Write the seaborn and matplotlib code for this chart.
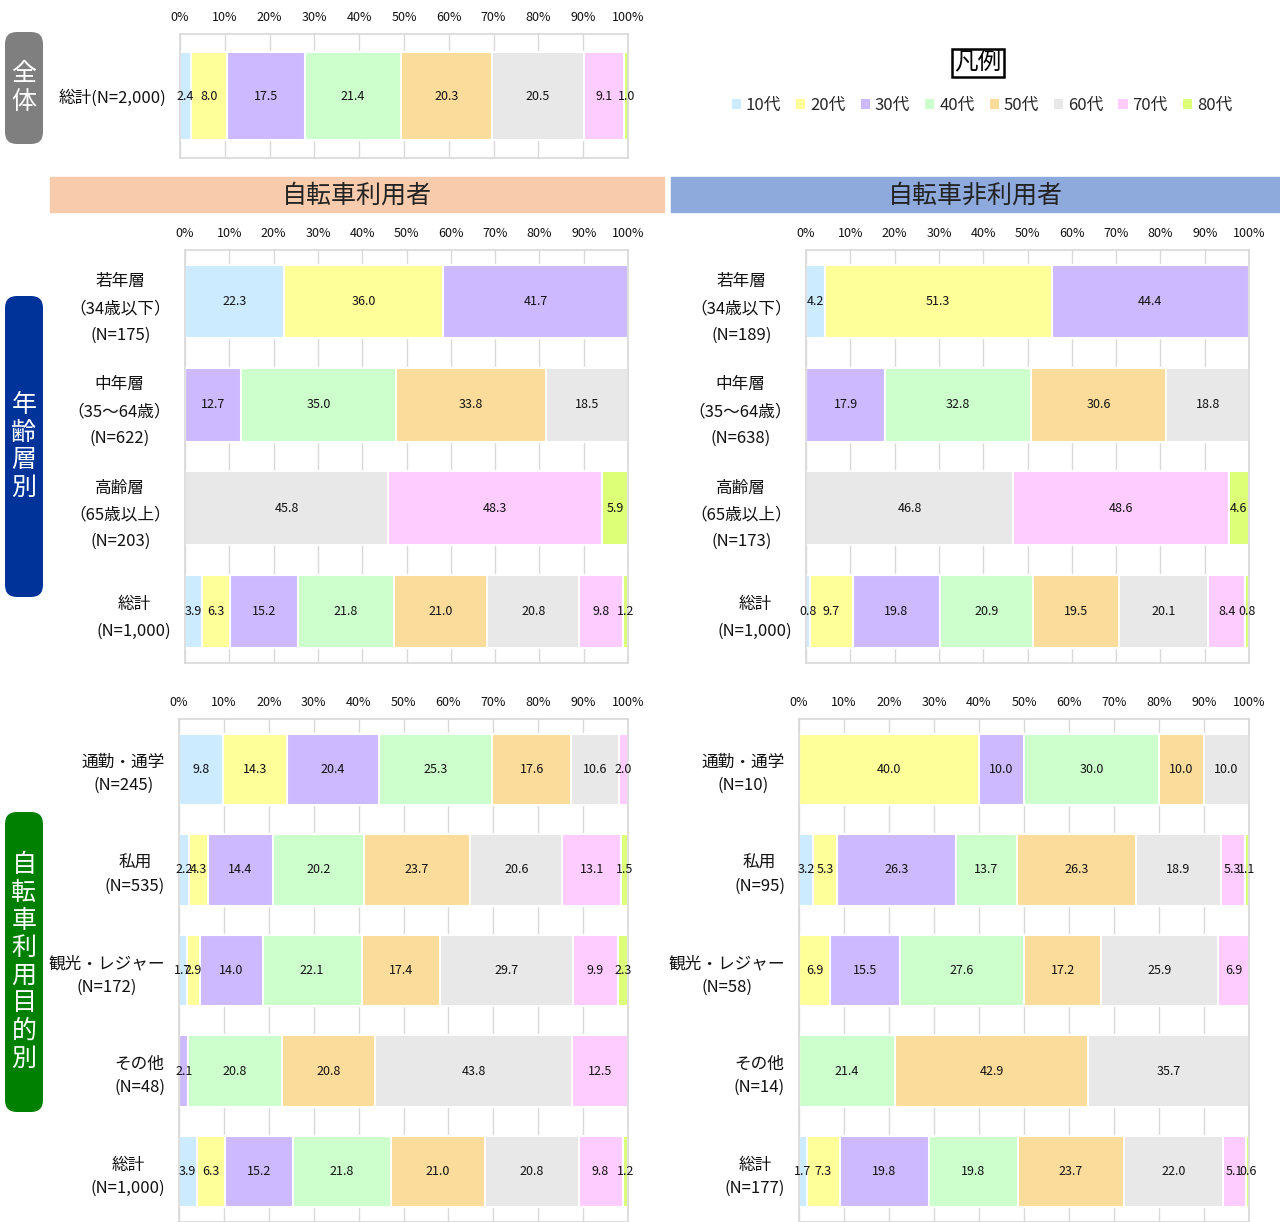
import matplotlib
matplotlib.use("Agg")
import matplotlib.pyplot as plt
import numpy as np
import pandas as pd
import seaborn as sns
from matplotlib.patches import FancyBboxPatch, Patch, Rectangle

W, H = 1280, 1222

age_bands = ["10代", "20代", "30代", "40代", "50代", "60代", "70代", "80代"]
band_colors = ["#CCEBFF", "#FFFF99", "#CDB9FF", "#CCFFCC", "#FCDC9A", "#E8E8E8", "#FFCCFF", "#DDFF77"]

overall_labels = ["総計(N=2,000)"]
overall_values = [[2.4, 8.0, 17.5, 21.4, 20.3, 20.5, 9.1, 1.0]]

user_age_labels = ["若年層\n（34歳以下）\n(N=175)", "中年層\n（35～64歳）\n(N=622)",
                   "高齢層\n（65歳以上）\n(N=203)", "総計\n(N=1,000)"]
user_age_values = [
    [22.3, 36.0, 41.7, 0, 0, 0, 0, 0],
    [0, 0, 12.7, 35.0, 33.8, 18.5, 0, 0],
    [0, 0, 0, 0, 0, 45.8, 48.3, 5.9],
    [3.9, 6.3, 15.2, 21.8, 21.0, 20.8, 9.8, 1.2],
]

nonuser_age_labels = ["若年層\n（34歳以下）\n(N=189)", "中年層\n（35～64歳）\n(N=638)",
                      "高齢層\n（65歳以上）\n(N=173)", "総計\n(N=1,000)"]
nonuser_age_values = [
    [4.2, 51.3, 44.4, 0, 0, 0, 0, 0],
    [0, 0, 17.9, 32.8, 30.6, 18.8, 0, 0],
    [0, 0, 0, 0, 0, 46.8, 48.6, 4.6],
    [0.8, 9.7, 19.8, 20.9, 19.5, 20.1, 8.4, 0.8],
]

user_purpose_labels = ["通勤・通学\n(N=245)", "私用\n(N=535)", "観光・レジャー\n(N=172)",
                       "その他\n(N=48)", "総計\n(N=1,000)"]
user_purpose_values = [
    [9.8, 14.3, 20.4, 25.3, 17.6, 10.6, 2.0, 0],
    [2.2, 4.3, 14.4, 20.2, 23.7, 20.6, 13.1, 1.5],
    [1.7, 2.9, 14.0, 22.1, 17.4, 29.7, 9.9, 2.3],
    [0, 0, 2.1, 20.8, 20.8, 43.8, 12.5, 0],
    [3.9, 6.3, 15.2, 21.8, 21.0, 20.8, 9.8, 1.2],
]

nonuser_purpose_labels = ["通勤・通学\n(N=10)", "私用\n(N=95)", "観光・レジャー\n(N=58)",
                          "その他\n(N=14)", "総計\n(N=177)"]
nonuser_purpose_values = [
    [0, 40.0, 10.0, 30.0, 10.0, 10.0, 0, 0],
    [3.2, 5.3, 26.3, 13.7, 26.3, 18.9, 5.3, 1.1],
    [0, 6.9, 15.5, 27.6, 17.2, 25.9, 6.9, 0],
    [0, 0, 0, 21.4, 42.9, 35.7, 0, 0],
    [1.7, 7.3, 19.8, 19.8, 23.7, 22.0, 5.1, 0.6],
]

sns.set_theme(style="white")
plt.rcParams["font.family"] = ["Noto Sans CJK JP", "DejaVu Sans"]

fig = plt.figure(figsize=(W / 100, H / 100), dpi=100)

# full-figure overlay in pixel units for the decorations
bg = fig.add_axes([0, 0, 1, 1], zorder=-1)
bg.set_xlim(0, W); bg.set_ylim(H, 0); bg.axis("off")


def px_axes(x0, y0, x1, y1):
    return fig.add_axes([x0 / W, 1 - y1 / H, (x1 - x0) / W, (y1 - y0) / H])


def stacked_panel(ax, labels, values, linespacing=1.45):
    vals = np.array(values, dtype=float)
    cum = np.cumsum(vals, axis=1)
    df = pd.DataFrame(cum, columns=age_bands)
    df["label"] = labels
    # draw cumulative bars from the longest down so each shorter one covers the previous
    for k in range(len(age_bands) - 1, -1, -1):
        sns.barplot(data=df, x=age_bands[k], y="label", orient="h", color=band_colors[k],
                    saturation=1, width=0.71, edgecolor="white", linewidth=1.5,
                    errorbar=None, ax=ax)
    for i in range(vals.shape[0]):
        for k in range(vals.shape[1]):
            if vals[i, k] > 0:
                ax.text(cum[i, k] - vals[i, k] / 2, i, f"{vals[i, k]:.1f}",
                        ha="center", va="center", fontsize=9, color="#111111")
    ax.set_xlim(0, 100)
    ax.set_xticks(np.arange(0, 101, 10))
    ax.set_xticklabels([f"{v}%" for v in range(0, 101, 10)], fontsize=9)
    ax.xaxis.tick_top()
    ax.set_xlabel(""); ax.set_ylabel("")
    ax.tick_params(axis="x", length=0, pad=7, colors="#111111")
    ax.tick_params(axis="y", length=0, pad=10, labelsize=12, colors="#111111")
    for t in ax.get_yticklabels():
        t.set_multialignment("center")
        t.set_linespacing(linespacing)
    ax.set_axisbelow(True)
    ax.grid(axis="x", color="#D9D9D9", linewidth=1)
    for s in ax.spines.values():
        s.set_color("#D9D9D9")
        s.set_visible(True)


stacked_panel(px_axes(180, 34, 628, 158), overall_labels, overall_values)
stacked_panel(px_axes(185, 250, 628, 663), user_age_labels, user_age_values, 1.75)
stacked_panel(px_axes(806, 250, 1249, 663), nonuser_age_labels, nonuser_age_values, 1.75)
stacked_panel(px_axes(179, 719, 628, 1222), user_purpose_labels, user_purpose_values)
stacked_panel(px_axes(799, 719, 1249, 1222), nonuser_purpose_labels, nonuser_purpose_values)

# section headers
bg.add_patch(Rectangle((50, 177), 614, 35, color="#F8CBAD"))
bg.add_patch(Rectangle((671, 177), 609, 35, color="#8EA9DB"))
bg.text(357, 196, "自転車利用者", ha="center", va="center", fontsize=18, color="#222222")
bg.text(975, 196, "自転車非利用者", ha="center", va="center", fontsize=18, color="#222222")

# side tabs
for (y0, y1, col, txt) in [(32, 144, "#7F7F7F", "全体"), (296, 597, "#003399", "年齢層別"),
                           (812, 1112, "#008000", "自転車利用目的別")]:
    bg.add_patch(FancyBboxPatch((5, y0), 38, y1 - y0, boxstyle="round,pad=0,rounding_size=12",
                                color=col, linewidth=0))
    bg.text(24, (y0 + y1) / 2, "\n".join(txt), ha="center", va="center", fontsize=18,
            color="white", linespacing=1.08)

# legend
bg.text(978, 63, "凡例", ha="center", va="center", fontsize=17, color="black",
        bbox=dict(facecolor="white", edgecolor="black", boxstyle="square,pad=0.1", linewidth=1.8))
handles = [Patch(facecolor=c, edgecolor="none") for c in band_colors]
fig.legend(handles, age_bands, loc="center", bbox_to_anchor=(982 / W, 1 - 105 / H), ncol=8,
           frameon=False, fontsize=12, handlelength=0.55, handleheight=0.55,
           handletextpad=0.3, columnspacing=0.9)

fig.savefig("out.png", dpi=100)
